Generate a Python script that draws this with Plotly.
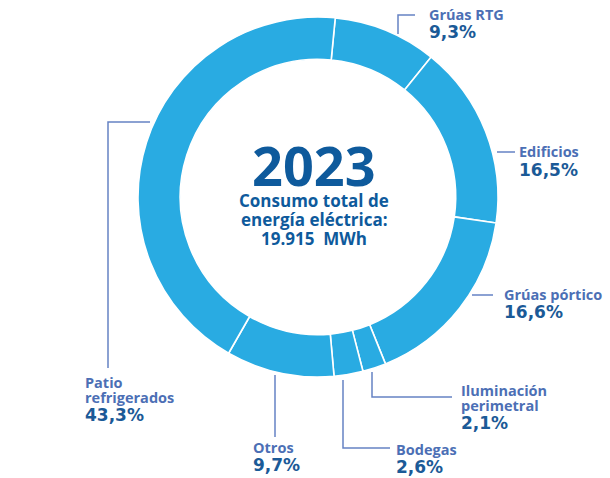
import plotly.graph_objects as go

W, H = 610, 478

# Electricity consumption by use, 2023
labels = ["Grúas RTG", "Edificios", "Grúas pórtico", "Iluminación perimetral",
          "Bodegas", "Otros", "Patio refrigerados"]
values = [9.3, 16.5, 16.6, 2.1, 2.6, 9.7, 43.3]
label_lines = [["Grúas RTG"], ["Edificios"], ["Grúas pórtico"],
               ["Iluminación", "perimetral"], ["Bodegas"], ["Otros"],
               ["Patio", "refrigerados"]]
year = "2023"
subtitle = ["Consumo total de", "energía eléctrica:", "19.915  MWh"]

RING = "#29abe2"
NAME_C = "#4c6fb5"
PCT_C = "#1b5a97"
CENTER_C = "#0e5a9c"
LINE_C = "#6582c4"
NAME_FONT = "Open Sans"
PCT_FONT = "DejaVu Sans"


def px(x):
    return x / W


def py(y):
    return 1 - y / H


# ring geometry (pixels)
cx, cy, r = 318, 197, 180

fig = go.Figure(go.Pie(
    labels=labels, values=values, hole=0.765, sort=False,
    direction="clockwise", rotation=5.5,
    marker=dict(colors=[RING] * len(values), line=dict(color="white", width=1.6)),
    textinfo="none", hoverinfo="label+percent", showlegend=False,
    domain=dict(x=[px(cx - r), px(cx + r)], y=[py(cy + r), py(cy - r)]),
))

# label placement: (x of text, y of first line, leader polyline)
placement = [
    (427, 14, [(415, 15), (398, 15), (398, 34)]),
    (517, 152, [(497, 152), (515, 152)]),
    (502, 294, [(472, 295), (493, 295)]),
    (459, 390, [(372, 372), (372, 397), (452, 397)]),
    (394, 449, [(343, 380), (343, 448), (390, 448)]),
    (251, 447, [(275, 375), (275, 437)]),
    (83, 382, [(150, 122), (108, 122), (108, 368)]),
]

annotations = []
shapes = []
for lines, v, (tx, ty, pts) in zip(label_lines, values, placement):
    y = ty
    for ln in lines:
        annotations.append(dict(
            x=px(tx), y=py(y), xref="paper", yref="paper", text=f"<b>{ln}</b>",
            showarrow=False, xanchor="left", yanchor="middle",
            font=dict(family=NAME_FONT, size=14.5, color=NAME_C)))
        y += 15
    pct = f"{v:.1f}".replace(".", ",") + "%"
    annotations.append(dict(
        x=px(tx), y=py(y + 3), xref="paper", yref="paper", text=f"<b>{pct}</b>",
        showarrow=False, xanchor="left", yanchor="middle",
        font=dict(family=PCT_FONT, size=17, color=PCT_C)))
    path = "M " + " L ".join(f"{px(a)},{py(b)}" for a, b in pts)
    shapes.append(dict(type="path", path=path, xref="paper", yref="paper",
                       line=dict(color=LINE_C, width=1.5)))

# centre text: year and total consumption
annotations.append(dict(
    x=px(314), y=py(165), xref="paper", yref="paper", text=f"<b>{year}</b>",
    showarrow=False, xanchor="center", yanchor="middle",
    font=dict(family=NAME_FONT, size=54, color=CENTER_C)))
for i, ln in enumerate(subtitle):
    annotations.append(dict(
        x=px(314), y=py(200 + i * 19), xref="paper", yref="paper",
        text=f"<b>{ln}</b>", showarrow=False, xanchor="center",
        yanchor="middle",
        font=dict(family=NAME_FONT, size=17, color=CENTER_C)))

fig.update_layout(
    width=W, height=H, margin=dict(l=0, r=0, t=0, b=0),
    paper_bgcolor="white", plot_bgcolor="white",
    annotations=annotations, shapes=shapes,
)

fig.write_html("out.html")
